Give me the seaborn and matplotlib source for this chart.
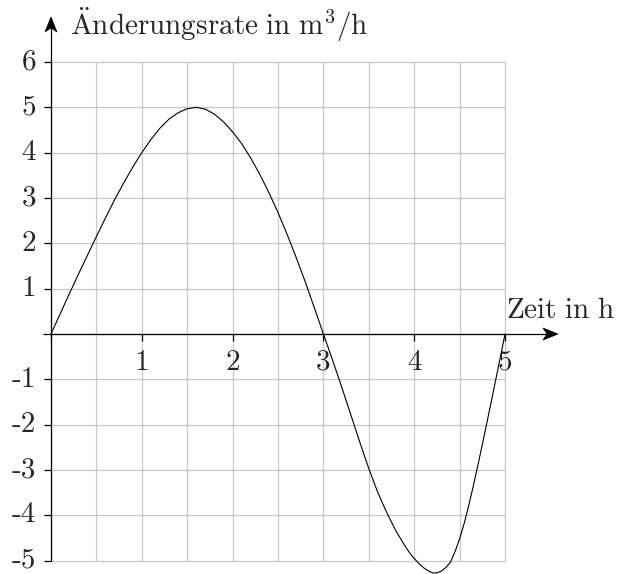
import numpy as np
import matplotlib
matplotlib.use("Agg")
import matplotlib.pyplot as plt
from matplotlib.patches import Polygon
import seaborn as sns

# Rate of change over time (hours -> m^3/h), read point by point
zeit = [0.00, 0.10, 0.20, 0.30, 0.40, 0.50, 0.60, 0.70, 0.80, 0.90,
        1.00, 1.10, 1.20, 1.30, 1.40, 1.50, 1.60, 1.70, 1.80, 1.90,
        2.00, 2.10, 2.20, 2.30, 2.40, 2.50, 2.60, 2.70, 2.80, 2.90,
        3.00, 3.10, 3.20, 3.30, 3.40, 3.50, 3.60, 3.70, 3.80, 3.90,
        3.95, 4.00, 4.05, 4.10, 4.15, 4.20, 4.25, 4.30, 4.35, 4.40,
        4.45, 4.50, 4.55, 4.60, 4.65, 4.70, 4.75, 4.80, 4.85, 4.90,
        4.95, 5.00]
rate = [0.00, 0.44, 0.88, 1.31, 1.73, 2.15, 2.56, 2.96, 3.33, 3.68,
        4.00, 4.29, 4.54, 4.74, 4.88, 4.97, 5.00, 4.96, 4.85, 4.68,
        4.46, 4.20, 3.88, 3.52, 3.12, 2.68, 2.20, 1.69, 1.15, 0.58,
        0.00, -0.57, -1.16, -1.77, -2.38, -2.97, -3.50, -3.95, -4.35, -4.68,
        -4.83, -4.95, -5.06, -5.15, -5.22, -5.27, -5.27, -5.23, -5.15, -5.03,
        -4.80, -4.52, -4.18, -3.79, -3.36, -2.91, -2.44, -1.96, -1.48, -0.99,
        -0.50, 0.00]

x_ticks = [1, 2, 3, 4, 5]
x_labels = ["1", "2", "3", "4", "5"]
y_ticks = [6, 5, 4, 3, 2, 1, -1, -2, -3, -4, -5]
y_labels = ["6", "5", "4", "3", "2", "1", "-1", "-2", "-3", "-4", "-5"]

sns.set_theme(style="white")
plt.rcParams["mathtext.fontset"] = "cm"
plt.rcParams["font.family"] = ["cmr10", "DejaVu Serif"]
plt.rcParams["axes.unicode_minus"] = False

W, H = 618, 574
XPX, YPX = 90.8, 45.33      # pixels per unit on each axis
X0, Y0 = 51, 334            # pixel position of the origin

fig = plt.figure(figsize=(W / 100, H / 100), dpi=100)
ax = fig.add_axes([0, 0, 1, 1])
ax.set_xlim(-X0 / XPX, (W - X0) / XPX)
ax.set_ylim(-(H - Y0) / YPX, Y0 / YPX)
ax.axis("off")

grid_kw = dict(color="#c8c8c8", lw=0.9, zorder=1)
for gx in np.arange(0, 5.01, 0.5):
    ax.plot([gx, gx], [-5, 6], **grid_kw)
for gy in range(-5, 7):
    ax.plot([0, 5], [gy, gy], **grid_kw)

# axes lines
ax_kw = dict(color="black", lw=0.9, zorder=3, solid_capstyle="butt")
x_tip = (558 - X0) / XPX
y_tip = (Y0 - 17) / YPX
ax.plot([-8 / XPX, x_tip - 10 / XPX], [0, 0], **ax_kw)
ax.plot([0, 0], [-5, y_tip - 10 / YPX], **ax_kw)


def arrow_head(tip, direction):
    # stealth-like head, sizes in pixels
    L, w, notch = 15, 6, 11
    pts = [(0, 0), (-L, w), (-notch, 0), (-L, -w)]
    dx, dy = direction
    out = []
    for a, b in pts:
        px = a * dx - b * dy
        py = a * dy + b * dx
        out.append((tip[0] + px / XPX, tip[1] + py / YPX))
    ax.add_patch(Polygon(out, closed=True, facecolor="black",
                         edgecolor="black", lw=0.5, zorder=4))


arrow_head((x_tip, 0), (1, 0))
arrow_head((0, y_tip), (0, 1))

# tick marks
for t in [0] + x_ticks:
    ax.plot([t, t], [0, -7 / YPX], **ax_kw)
for t in y_ticks:
    ax.plot([-7 / XPX, 0], [t, t], **ax_kw)

fs = 21
for t, lab in zip(x_ticks, x_labels):
    ax.text(t, -15.5 / YPX, lab, ha="center", va="top", fontsize=fs, zorder=2)
for t, lab in zip(y_ticks, y_labels):
    ax.text(-15 / XPX, t, lab, ha="right", va="center", fontsize=fs, zorder=2)

ax.text((70 - X0) / XPX, (Y0 - 35) / YPX,
        r"$\ddot{\mathrm{A}}\mathrm{nderungsrate\ in\ m}^3\mathrm{/h}$",
        ha="left", va="baseline", fontsize=fs)
ax.text((506 - X0) / XPX, (Y0 - 318) / YPX, r"$\mathrm{Zeit\ in\ h}$",
        ha="left", va="baseline", fontsize=fs)

sns.lineplot(x=zeit, y=rate, ax=ax, color="black", lw=0.8, zorder=5)
for line in ax.lines:
    line.set_clip_on(False)

fig.savefig("out.png", dpi=100)
